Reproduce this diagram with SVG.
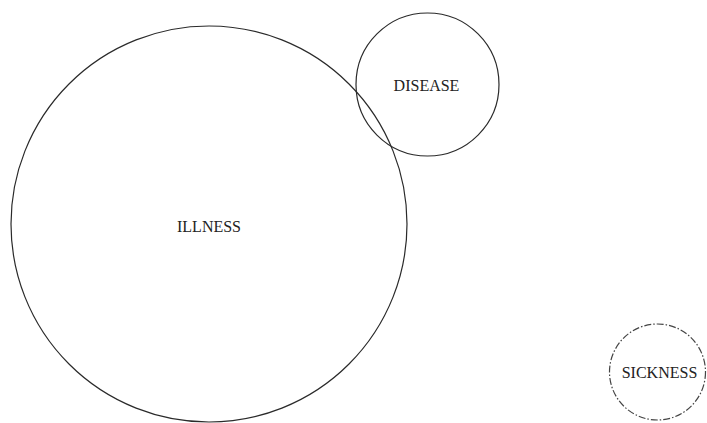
<svg xmlns="http://www.w3.org/2000/svg" width="707" height="423" viewBox="0 0 707 423">
<style>
.c{fill:none;stroke:#2a2a2a;stroke-width:1.2}
.d{fill:none;stroke:#444;stroke-width:1.2;stroke-dasharray:7 2 1.5 2}
.t{font-family:"Liberation Serif","Times New Roman",serif;font-size:16px;fill:#222;text-anchor:middle}
</style>
<rect width="707" height="423" fill="#fff"/>
<g id="illness"><circle class="c" cx="209" cy="224" r="198"/><text class="t" x="209" y="232">ILLNESS</text></g>
<g id="disease"><circle class="c" cx="427.5" cy="84.5" r="71.5"/><text class="t" x="426.5" y="91">DISEASE</text></g>
<g id="sickness"><circle class="d" cx="657.5" cy="372" r="48"/><text class="t" x="659.5" y="378">SICKNESS</text></g>
<g id="connectors"/>
</svg>
